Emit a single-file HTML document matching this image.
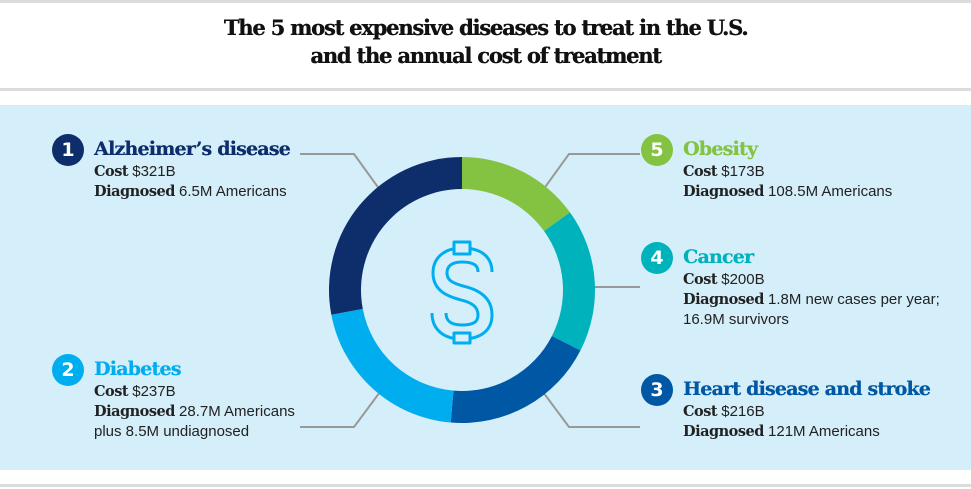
<!DOCTYPE html>
<html><head><meta charset="utf-8">
<style>
body{margin:0;width:971px;height:489px;background:#fff;overflow:hidden;position:relative;font-family:"Liberation Sans",sans-serif;}
.rule{position:absolute;left:0;width:971px;height:3px;background:#dcdcdc;}
#title{position:absolute;top:14px;left:0;width:971px;text-align:center;font-family:"DejaVu Serif","Liberation Serif",serif;font-weight:bold;font-size:21px;line-height:28px;color:#111;letter-spacing:-1.2px;text-shadow:0.4px 0 0 #111;}
#panel{position:absolute;left:0;top:105px;width:971px;height:365px;background:#d4eefa;}
.item{position:absolute;color:#222;font-size:15px;line-height:20px;}
.item h3{margin:0 0 1px 0;font-family:"DejaVu Serif","Liberation Serif",serif;font-weight:bold;font-size:19px;line-height:24px;letter-spacing:-0.8px;text-shadow:0.3px 0 0 currentColor;}
.item b{font-family:"DejaVu Serif","Liberation Serif",serif;letter-spacing:-0.5px;font-size:14.5px;}
.badge{position:absolute;width:32px;height:32px;border-radius:50%;color:#fff;font-weight:bold;font-size:19px;text-align:center;line-height:32px;font-family:"DejaVu Sans",sans-serif;}
</style></head><body>
<div class="rule" style="top:0"></div>
<div id="title">The 5 most expensive diseases to treat in the U.S.<br>and the annual cost of treatment</div>
<div class="rule" style="top:88px"></div>
<div id="panel"></div>
<div class="rule" style="top:484px"></div>
<svg id="chart" width="971" height="489" style="position:absolute;left:0;top:0">
<g id="leaders" stroke="#999" stroke-width="2" fill="none">
<polyline points="300,154 354,154 380,190"/>
<polyline points="543,190 569,154 640,154"/>
<polyline points="582,287 640,287"/>
<polyline points="543,392 569,427 640,427"/>
<polyline points="380,392 354,427 300,427"/>
</g>
<g id="slices"></g>
<g fill="none" stroke-linecap="butt" stroke-linejoin="round">
<path d="M485,272 C485,260 476,255 462,255 C448,255 440,262 440,273 C440,286 451,290 462,293 C475,296 485,302 485,315 C485,327 476,332 462,332 C448,332 439,326 439,313" stroke="#00aeef" stroke-width="17"/>
<path d="M485,272 C485,260 476,255 462,255 C448,255 440,262 440,273 C440,286 451,290 462,293 C475,296 485,302 485,315 C485,327 476,332 462,332 C448,332 439,326 439,313" stroke="#d4eefa" stroke-width="11"/>
<rect x="454" y="242" width="16" height="12" stroke="#00aeef" stroke-width="3" fill="#d4eefa"/>
<rect x="454" y="333" width="16" height="10" stroke="#00aeef" stroke-width="3" fill="#d4eefa"/>
</g>
</svg>
<div class="badge" style="left:52px;top:134px;background:#0d2d6b">1</div>
<div class="item" style="left:94px;top:137px"><h3 style="color:#0d2d6b">Alzheimer’s disease</h3><b>Cost</b> $321B<br><b>Diagnosed</b> 6.5M Americans</div>
<div class="badge" style="left:52px;top:354px;background:#00aeef">2</div>
<div class="item" style="left:94px;top:357px"><h3 style="color:#00aeef">Diabetes</h3><b>Cost</b> $237B<br><b>Diagnosed</b> 28.7M Americans<br>plus 8.5M undiagnosed</div>
<div class="badge" style="left:641px;top:134px;background:#84c341">5</div>
<div class="item" style="left:683px;top:137px"><h3 style="color:#84c341">Obesity</h3><b>Cost</b> $173B<br><b>Diagnosed</b> 108.5M Americans</div>
<div class="badge" style="left:641px;top:242px;background:#00b2bb">4</div>
<div class="item" style="left:683px;top:245px"><h3 style="color:#00b2bb">Cancer</h3><b>Cost</b> $200B<br><b>Diagnosed</b> 1.8M new cases per year;<br>16.9M survivors</div>
<div class="badge" style="left:641px;top:374px;background:#0057a4">3</div>
<div class="item" style="left:683px;top:377px"><h3 style="color:#0057a4">Heart disease and stroke</h3><b>Cost</b> $216B<br><b>Diagnosed</b> 121M Americans</div>
<script>
const categories=["Obesity","Cancer","Heart disease and stroke","Diabetes","Alzheimer's disease"];
const costs=[173,200,216,237,321];
const colors=["#84c341","#00b2bb","#0057a4","#00aeef","#0d2d6b"];
const cx=462,cy=290,ro=133,ri=101;
const total=costs.reduce((a,b)=>a+b,0);
const g=document.getElementById('slices');
let a0=0;
function pt(r,a){return [cx+r*Math.sin(a),cy-r*Math.cos(a)];}
costs.forEach((v,i)=>{
  const a1=a0+v/total*2*Math.PI;
  const large=(a1-a0)>Math.PI?1:0;
  const p1=pt(ro,a0),p2=pt(ro,a1),p3=pt(ri,a1),p4=pt(ri,a0);
  const p=document.createElementNS('http://www.w3.org/2000/svg','path');
  p.setAttribute('d',`M${p1[0]},${p1[1]} A${ro},${ro} 0 ${large} 1 ${p2[0]},${p2[1]} L${p3[0]},${p3[1]} A${ri},${ri} 0 ${large} 0 ${p4[0]},${p4[1]} Z`);
  p.setAttribute('fill',colors[i]);
  
  
  g.appendChild(p);
  a0=a1;
});
</script>
</body></html>
